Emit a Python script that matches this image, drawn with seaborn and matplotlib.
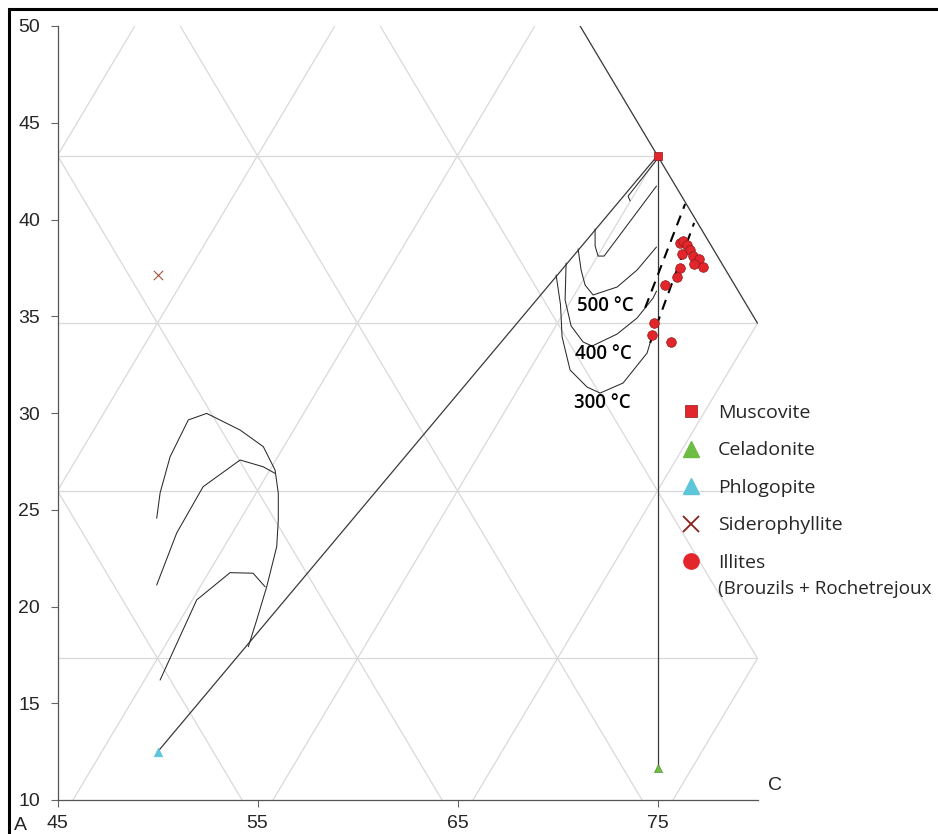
import numpy as np
import matplotlib
matplotlib.use("Agg")
import matplotlib.pyplot as plt
from matplotlib.lines import Line2D
from matplotlib.patches import Polygon, Rectangle
import seaborn as sns

# end members (x, y in diagram units)
musc_x, musc_y = [75.0], [43.3]
cela_x, cela_y = [75.0], [11.65]
phlo_x, phlo_y = [50.0], [12.48]
sido_x, sido_y = [50.0], [37.13]

# illites (Brouzils + Rochetrejoux)
ill_x = [76.13, 76.29, 76.46, 76.63, 76.24, 76.76, 77.09, 76.83, 77.26, 76.13,
         75.96, 75.39, 74.83, 74.73, 75.66]
ill_y = [38.80, 38.90, 38.68, 38.42, 38.22, 38.11, 37.96, 37.70, 37.53, 37.48,
         37.04, 36.63, 34.67, 34.05, 33.67]

# triangle edge
edge_x = [71.13, 80.0]
edge_y = [50.0, 34.64]

# isotherms near muscovite
hook_x = [74.95, 73.53, 73.63]
hook_y = [43.07, 41.21, 40.96]
t600_x = [71.88, 71.88, 72.03, 72.33, 74.95]
t600_y = [39.51, 38.63, 38.11, 38.11, 41.73]
t500_x = [71.03, 71.18, 71.38, 71.78, 72.98, 73.98, 74.95]
t500_y = [38.48, 37.39, 36.61, 36.10, 36.51, 37.39, 38.58]
t400_x = [70.43, 70.38, 70.68, 71.28, 71.73, 72.98, 73.98, 74.78, 74.95]
t400_y = [37.75, 35.84, 34.50, 33.67, 33.46, 34.08, 34.91, 35.94, 36.30]
t300_x = [69.93, 70.15, 70.23, 70.63, 71.48, 72.13, 73.28, 74.48, 74.63]
t300_y = [37.13, 35.60, 33.93, 32.22, 31.34, 31.03, 31.55, 33.10, 33.62]
dash1_x = [74.38, 76.38]
dash1_y = [35.43, 40.80]
dash2_x = [74.63, 76.83]
dash2_y = [33.62, 39.82]

# isotherms near phlogopite
la_x = [49.96, 50.13, 50.63, 51.54, 52.46, 54.13, 55.29, 55.88, 56.04, 56.04,
        55.96, 55.46, 54.96, 54.54]
la_y = [24.56, 25.87, 27.74, 29.64, 29.98, 29.12, 28.26, 27.05, 25.85, 24.47,
        23.09, 21.02, 19.30, 17.92]
lb_x = [49.96, 50.96, 52.28, 54.13, 55.29, 55.88]
lb_y = [21.11, 23.80, 26.19, 27.57, 27.22, 26.88]
lc_x = [50.13, 51.96, 53.63, 54.78, 55.38]
lc_y = [16.20, 20.34, 21.75, 21.72, 21.02]

temp_labels = ["500 °C", "400 °C", "300 °C"]
temp_x = [72.38, 72.28, 72.23]
temp_y = [35.53, 33.05, 30.52]

legend_labels = ["Muscovite", "Celadonite", "Phlogopite", "Siderophyllite", "Illites"]
legend_note = "(Brouzils + Rochetrejoux"

sns.set_style("white")
plt.rcParams["font.family"] = ["Liberation Sans", "DejaVu Sans"]

fig = plt.figure(figsize=(9.38, 8.34), dpi=100)
ax = fig.add_axes([57.5 / 938, 34 / 834, 700 / 938, 774 / 834])
ax.set_xlim(45, 80)
ax.set_ylim(10, 50)

# ternary grid clipped to the diagram area
s3 = np.sqrt(3)
clip = Polygon([(45, 10), (80, 10), (80, 20 * s3), (100 - 50 / s3, 50), (45, 50)],
               transform=ax.transData)
gx = np.array([40.0, 90.0])
grid_kw = dict(color="#d9d9d9", lw=0.9, zorder=0)
for k in range(2, 6):
    ln, = ax.plot(gx, [k * 5 * s3] * 2, **grid_kw)
    ln.set_clip_path(clip)
for c in range(20, 90, 10):
    ln, = ax.plot(gx, s3 * (gx - c), **grid_kw)
    ln.set_clip_path(clip)
for d in range(50, 120, 10):
    ln, = ax.plot(gx, -s3 * (gx - d), **grid_kw)
    ln.set_clip_path(clip)

line_kw = dict(sort=False, estimator=None, color="#3a3a3a", lw=0.9, ax=ax, legend=False)
sns.lineplot(x=edge_x, y=edge_y, **line_kw)
sns.lineplot(x=phlo_x + musc_x, y=phlo_y + musc_y, **line_kw)
sns.lineplot(x=musc_x + cela_x, y=musc_y + cela_y, **line_kw)

curve_kw = dict(sort=False, estimator=None, color="#2a2a2a", lw=0.75, ax=ax, legend=False)
for cx, cy in [(hook_x, hook_y), (t600_x, t600_y), (t500_x, t500_y), (t400_x, t400_y),
               (t300_x, t300_y), (la_x, la_y), (lb_x, lb_y), (lc_x, lc_y)]:
    sns.lineplot(x=cx, y=cy, **curve_kw)

for cx, cy in [(dash1_x, dash1_y), (dash2_x, dash2_y)]:
    ln = sns.lineplot(x=cx, y=cy, sort=False, estimator=None, color="black", lw=1.5,
                      ax=ax, legend=False).lines[-1]
    ln.set_dashes([5, 3.5])

red = "#e3262c"
sns.scatterplot(x=ill_x, y=ill_y, color=red, edgecolor="#8a1a1a", linewidth=0.5, s=48,
                zorder=5, ax=ax)
sns.scatterplot(x=musc_x, y=musc_y, marker="s", color=red, edgecolor="#8a1a1a",
                linewidth=0.5, s=30, zorder=6, ax=ax)
sns.scatterplot(x=cela_x, y=cela_y, marker="^", color="#6dbd45", edgecolor="#4a8a2a",
                linewidth=0.4, s=35, zorder=6, ax=ax)
sns.scatterplot(x=phlo_x, y=phlo_y, marker="^", color="#5ec6da", edgecolor="#5ec6da",
                linewidth=0.4, s=40, zorder=6, ax=ax)
ax.scatter(sido_x, sido_y, marker="x", color="#a5553f", s=45, linewidths=0.8, zorder=6)

for lab, tx, ty in zip(temp_labels, temp_x, temp_y):
    ax.text(tx, ty, lab, ha="center", va="center", fontsize=13.5, fontweight="semibold",
            family=["Open Sans", "DejaVu Sans"], color="black", zorder=7)

ax.set_xticks([45, 55, 65, 75])
ax.set_yticks(range(10, 51, 5))
ax.tick_params(axis="both", direction="out", length=5, width=0.8, color="#666666",
               labelsize=14, pad=6, left=True, bottom=True)
ax.tick_params(axis="y", pad=7.5)
for side in ["top", "right"]:
    ax.spines[side].set_visible(False)
for side in ["left", "bottom"]:
    ax.spines[side].set_color("#555555")
    ax.spines[side].set_linewidth(0.9)
ax.set_xlabel("")
ax.set_ylabel("")

fig.text(20 / 938, 1 - 826 / 834, "A", fontsize=14, ha="center", va="center")
fig.text(775 / 938, 1 - 785 / 834, "C", fontsize=14, ha="center", va="center")

handles = [
    Line2D([], [], ls="none", marker="s", mfc=red, mec="#8a1a1a", mew=0.5, ms=9),
    Line2D([], [], ls="none", marker="^", mfc="#6dbd45", mec="#6dbd45", ms=11),
    Line2D([], [], ls="none", marker="^", mfc="#5ec6da", mec="#5ec6da", ms=11),
    Line2D([], [], ls="none", marker="x", mec="#8b1f1a", mew=1.3, ms=11),
    Line2D([], [], ls="none", marker="o", mfc=red, mec=red, ms=11),
]
fig.legend(handles, legend_labels, loc="upper left",
           bbox_to_anchor=(681 / 938, 1 - 404 / 834),
           frameon=False, handlelength=1.0, handletextpad=0.9, labelspacing=1.0,
           borderpad=0, borderaxespad=0, prop={"family": "Open Sans", "size": 14})
fig.text(718 / 938, 1 - 589 / 834, legend_note, fontsize=13.6,
         family="Open Sans", ha="left", va="center")

fig.add_artist(Rectangle((9 / 938, -0.05), 1.0, 1 - 9 / 834 + 0.05, fill=False,
                         lw=2.2, ec="black", transform=fig.transFigure))

fig.savefig("out.png", dpi=100)
